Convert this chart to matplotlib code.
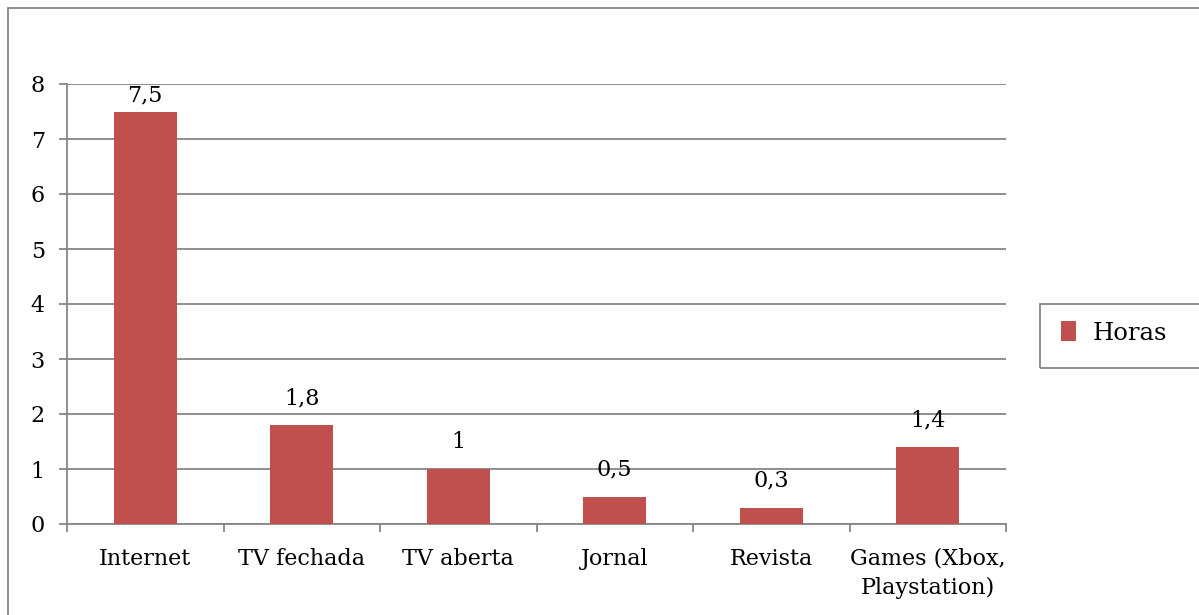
import matplotlib.pyplot as plt
from matplotlib.patches import Rectangle

# Data
categorias = ["Internet", "TV fechada", "TV aberta", "Jornal", "Revista",
              "Games (Xbox,\nPlaystation)"]
horas = [7.5, 1.8, 1, 0.5, 0.3, 1.4]
rotulos = ["7,5", "1,8", "1", "0,5", "0,3", "1,4"]
yticks = [0, 1, 2, 3, 4, 5, 6, 7, 8]

bar_color = "#C0504D"
grid_color = "#868686"

plt.rcParams["font.family"] = ["DejaVu Serif"]
plt.rcParams["font.size"] = 16

fig = plt.figure(figsize=(11.99, 6.15), dpi=100)
ax = fig.add_axes([67 / 1199, 91 / 615, 939 / 1199, 440 / 615])

x = range(len(categorias))
bars = ax.bar(x, horas, width=0.4, color=bar_color, zorder=3, label="Horas")

ymax = 8
# value labels above each bar, kept inside the plot area like Excel does
for b, txt in zip(bars, rotulos):
    ypos = min(b.get_height() + 0.49, ymax - 0.2)
    ax.text(b.get_x() + b.get_width() / 2, ypos, txt,
            ha="center", va="center")

ax.set_xlim(-0.5, len(categorias) - 0.5)
ax.set_ylim(0, ymax)
ax.set_yticks(yticks)
ax.set_yticklabels([str(v) for v in yticks])
ax.yaxis.grid(True, color=grid_color, linewidth=1.3, zorder=0)

# category labels centred, ticks on the boundaries
ax.set_xticks(list(x))
ax.set_xticklabels(categorias, linespacing=1.4)
ax.tick_params(axis="x", length=0, pad=17)
ax.set_xticks([i - 0.5 for i in range(len(categorias) + 1)], minor=True)
ax.tick_params(axis="x", which="minor", length=6, color=grid_color, width=1.3)
ax.tick_params(axis="y", length=6, color=grid_color, width=1.3, pad=10)

for s in ["top", "right"]:
    ax.spines[s].set_visible(False)
for s in ["left", "bottom"]:
    ax.spines[s].set_color(grid_color)
    ax.spines[s].set_linewidth(1.3)

# legend on the right, framed by hand so the box runs off the edge
leg = fig.legend(handles=[bars], labels=["Horas"], loc="center left",
                 bbox_to_anchor=(1061 / 1199, 1 - 333 / 615), frameon=False,
                 handlelength=0.62, handleheight=0.85, handletextpad=0.7,
                 borderpad=0, borderaxespad=0, fontsize=17.5)
fig.add_artist(Rectangle((1040 / 1199, 1 - 368 / 615), 0.2, 64 / 615,
                         transform=fig.transFigure, fill=False,
                         edgecolor=grid_color, linewidth=1.3))

# outer chart frame
fig.add_artist(Rectangle((8 / 1199, -0.1), 1.2, (615 - 8) / 615 + 0.1,
                         transform=fig.transFigure, fill=False,
                         edgecolor=grid_color, linewidth=1.3))

fig.savefig("out.png", dpi=100)
